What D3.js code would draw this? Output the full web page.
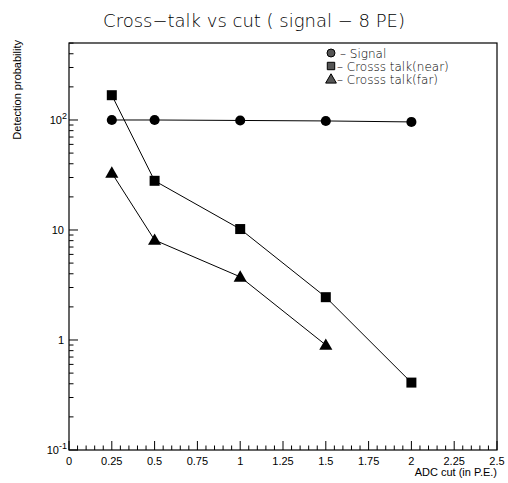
<!DOCTYPE html>
<html><head><meta charset="utf-8">
<script src="https://cdn.jsdelivr.net/npm/d3@7"></script>
<style>body{margin:0;background:#fff}svg{display:block}</style>
</head><body>
<svg id="c" width="508" height="483"></svg>
<script>
const cuts = [0.25, 0.5, 1, 1.5, 2];
const signal = [100, 100, 99, 98, 96];
const nearCuts = [0.25, 0.5, 1, 1.5, 2];
const nearTalk = [168, 28, 10.2, 2.45, 0.41];
const farCuts = [0.25, 0.5, 1, 1.5];
const farTalk = [33, 8.1, 3.75, 0.9];
const xTicks = [0, 0.25, 0.5, 0.75, 1, 1.25, 1.5, 1.75, 2, 2.25, 2.5];
const xTickLabels = ["0","0.25","0.5","0.75","1","1.25","1.5","1.75","2","2.25","2.5"];
const yDecades = [0.1, 1, 10, 100];
const yDecadeLabels = [["10","-1"],["1",null],["10",null],["10","2"]];
const legendLabels = ["\u2013 Signal", "\u2013 Crosss talk(near)", "\u2013 Crosss talk(far)"];

const svg = d3.select("#c");
const L = 69, R = 497, T = 43, B = 450;
const x = d3.scaleLinear().domain([0, 2.5]).range([L, R]);
const y = d3.scaleLog().domain([0.1, 501]).range([B, T]);
const tickFont = "Liberation Sans, Arial, sans-serif";
const titleFont = "DejaVu Sans, sans-serif";

// frame
svg.append("rect").attr("x", L).attr("y", T).attr("width", R - L).attr("height", B - T)
  .attr("fill", "none").attr("stroke", "#000").attr("stroke-width", 1.2);

// x ticks (inside)
const xMinor = d3.range(0, 2.5001, 0.05);
svg.append("g").selectAll("line").data(xMinor).join("line")
  .attr("x1", d => x(d)).attr("x2", d => x(d))
  .attr("y1", B).attr("y2", d => B - (Math.abs(d / 0.25 - Math.round(d / 0.25)) < 1e-6 ? 9 : 4.5))
  .attr("stroke", "#000").attr("stroke-width", 1);
svg.append("g").selectAll("text").data(xTicks).join("text")
  .attr("x", d => x(d)).attr("y", B + 15).attr("text-anchor", "middle")
  .attr("font-family", tickFont).attr("font-size", 11).text((d, i) => xTickLabels[i]);

// y ticks (inside)
const yMinor = [];
yDecades.forEach(d => { for (let k = 1; k <= 9; k++) { const v = d * k; if (v <= 501) yMinor.push({v, major: k === 1}); } });
svg.append("g").selectAll("line").data(yMinor).join("line")
  .attr("x1", L).attr("x2", d => L + (d.major ? 9 : 4.5))
  .attr("y1", d => y(d.v)).attr("y2", d => y(d.v))
  .attr("stroke", "#000").attr("stroke-width", 1);
const yl = svg.append("g").selectAll("text").data(yDecades).join("text")
  .attr("x", L - 5).attr("y", d => y(d) + 4).attr("text-anchor", "end")
  .attr("font-family", tickFont).attr("font-size", 11);
yl.each(function(d, i) {
  const t = d3.select(this), lab = yDecadeLabels[i];
  if (lab[1]) {
    t.append("tspan").text(lab[0]);
    t.append("tspan").attr("dy", -5).attr("font-size", 9).text(lab[1]);
    t.attr("x", L - 2);
  } else {
    t.text(lab[0]);
  }
});

// titles
svg.append("text").attr("x", 254).attr("y", 27).attr("text-anchor", "middle")
  .attr("font-family", titleFont).attr("font-size", 18).attr("font-weight", 300)
  .text("Cross\u2212talk vs cut ( signal \u2212 8 PE)");
svg.append("text").attr("transform", `translate(21,${T - 3}) rotate(-90)`).attr("text-anchor", "end")
  .attr("font-family", tickFont).attr("font-size", 11).text("Detection probability");
svg.append("text").attr("x", R).attr("y", 476).attr("text-anchor", "end")
  .attr("font-family", tickFont).attr("font-size", 11).text("ADC cut (in P.E.)");

// series
const line = d3.line().x(d => x(d[0])).y(d => y(d[1]));
const series = [
  {xs: cuts, ys: signal, sym: d3.symbolCircle, size: 80},
  {xs: nearCuts, ys: nearTalk, sym: d3.symbolSquare, size: 100},
  {xs: farCuts, ys: farTalk, sym: d3.symbolTriangle, size: 75},
];
series.forEach(s => {
  const pts = s.xs.map((v, i) => [v, s.ys[i]]);
  svg.append("path").datum(pts).attr("d", line).attr("fill", "none").attr("stroke", "#000").attr("stroke-width", 1);
  svg.append("g").selectAll("path").data(pts).join("path")
    .attr("transform", d => `translate(${x(d[0])},${y(d[1]) + (s.sym === d3.symbolTriangle ? 1 : 0)})`)
    .attr("d", d3.symbol().type(s.sym).size(s.size)).attr("fill", "#000");
});

// legend
const lg = svg.append("g");
const legSyms = [d3.symbolCircle, d3.symbolSquare, d3.symbolTriangle];
const legSizes = [50, 55, 50];
legendLabels.forEach((t, i) => {
  const yy = 53 + i * 13;
  lg.append("path").attr("transform", `translate(331,${yy + (i === 2 ? 1 : 0)})`)
    .attr("d", d3.symbol().type(legSyms[i]).size(legSizes[i]))
    .attr("fill", "#555").attr("stroke", "#000").attr("stroke-width", 1);
  lg.append("text").attr("x", 337 + (i === 0 ? 3 : 0)).attr("y", yy + 4.5)
    .attr("font-family", titleFont).attr("font-size", 12).attr("font-weight", 300).text(t);
});
</script>
</body></html>
